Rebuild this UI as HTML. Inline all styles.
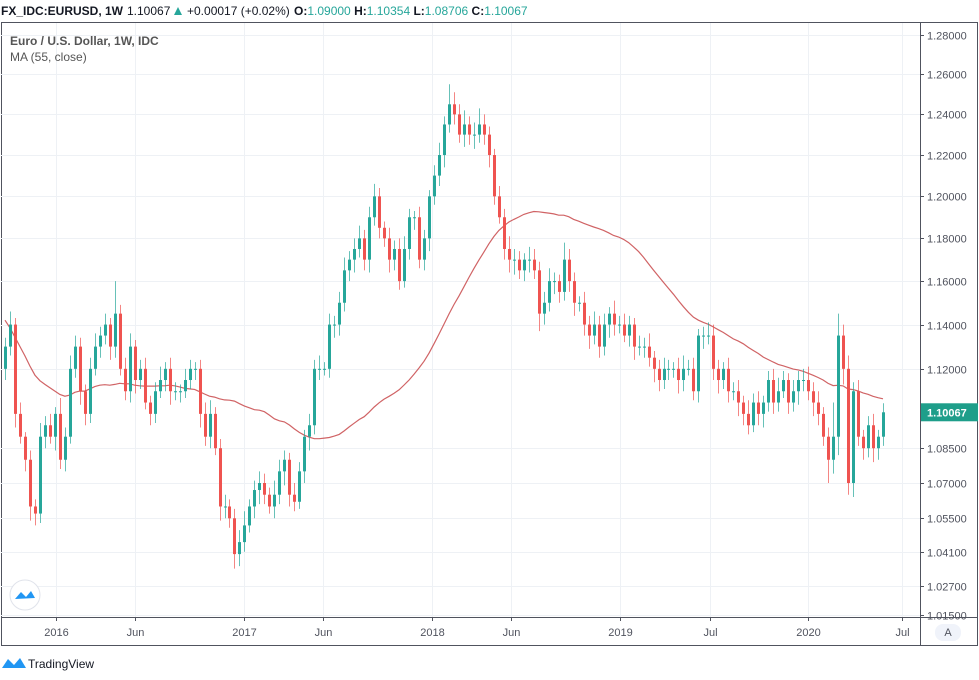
<!DOCTYPE html>
<html><head><meta charset="utf-8">
<style>
body{margin:0;background:#fff;width:979px;height:675px;overflow:hidden;font-family:"Liberation Sans",sans-serif;}
svg text{font-family:"Liberation Sans",sans-serif;}
</style></head>
<body>
<svg id="chart" width="979" height="675" xmlns="http://www.w3.org/2000/svg">
  <g id="header" font-size="12">
    <text x="1" y="15" fill="#131722" font-weight="bold">FX_IDC:EURUSD, 1W</text>
    <text x="127" y="15" fill="#131722">1.10067</text>
    <polygon points="174,15 178,7 182,15" fill="#26a69a"/>
    <text x="187" y="15" fill="#131722">+0.00017 (+0.02%)</text>
    <text x="294" y="15" fill="#131722" font-weight="bold">O:<tspan fill="#26a69a" font-weight="normal">1.09000</tspan> H:<tspan fill="#26a69a" font-weight="normal">1.10354</tspan> L:<tspan fill="#26a69a" font-weight="normal">1.08706</tspan> C:<tspan fill="#26a69a" font-weight="normal">1.10067</tspan></text>
  </g>
  <rect x="1.5" y="22.5" width="976" height="623" fill="none" stroke="#50535e" stroke-width="1"/>
  <g id="grid"></g>
  <g id="ma"></g>
  <g id="candles"></g>
  <line x1="920.5" y1="22" x2="920.5" y2="646" stroke="#50535e"/>
  <line x1="1" y1="617.5" x2="978" y2="617.5" stroke="#50535e"/>
  <g id="yaxis" font-size="11" fill="#50535e"></g>
  <g id="xaxis" font-size="11" fill="#50535e"></g>
  <text x="10" y="45" font-size="12" fill="#555" font-weight="bold">Euro / U.S. Dollar, 1W, IDC</text>
  <text x="10" y="61" font-size="12" fill="#555">MA (55, close)</text>
  <g>
    <circle cx="25" cy="595" r="15" fill="#fff" stroke="#e0e3eb"/>
    <path d="M15 599 L21 592 L26 597 L31 591 L35 598 Z" fill="#2196f3"/>
  </g>
  <rect x="935" y="624" width="26" height="17" rx="8" fill="#f0f3fa"/>
  <text x="948" y="636" font-size="11" fill="#50535e" text-anchor="middle">A</text>
  <g>
    <path d="M2 668 L8 659 L14 665 L20 658 L26 668 Z" fill="#2196f3"/>
    <text x="28" y="668" font-size="12" fill="#131722">TradingView</text>
  </g>
</svg>
<script>
const priceTicks=[1.28,1.26,1.24,1.22,1.20,1.18,1.16,1.14,1.12,1.085,1.07,1.055,1.041,1.027,1.015];
const tickLabels=["1.28000","1.26000","1.24000","1.22000","1.20000","1.18000","1.16000","1.14000","1.12000","1.08500","1.07000","1.05500","1.04100","1.02700","1.01500"];
const timeLabels=["2016","Jun","2017","Jun","2018","Jun","2019","Jul","2020","Jul"];
const timeWeeks=[14,36,66,88,118,140,170,195,222,248]; // weeks since first candle
const closes=[1.13,1.14,1.10,1.09,1.08,1.06,1.057,1.09,1.095,1.09,1.10,1.08,1.09,1.12,1.13,1.11,1.10,1.12,1.13,1.135,1.14,1.13,1.145,1.12,1.11,1.13,1.115,1.12,1.105,1.10,1.11,1.115,1.12,1.11,1.11,1.11,1.115,1.12,1.12,1.10,1.09,1.10,1.085,1.06,1.06,1.055,1.04,1.045,1.052,1.06,1.067,1.07,1.065,1.06,1.065,1.075,1.08,1.065,1.062,1.075,1.09,1.095,1.12,1.12,1.12,1.14,1.14,1.15,1.165,1.17,1.175,1.18,1.17,1.19,1.20,1.185,1.18,1.17,1.175,1.16,1.175,1.19,1.19,1.17,1.18,1.20,1.21,1.22,1.235,1.245,1.24,1.23,1.235,1.23,1.23,1.235,1.23,1.22,1.20,1.19,1.175,1.17,1.17,1.165,1.17,1.17,1.165,1.145,1.15,1.16,1.16,1.155,1.17,1.16,1.15,1.15,1.14,1.135,1.14,1.13,1.14,1.145,1.14,1.14,1.135,1.14,1.13,1.13,1.13,1.125,1.12,1.115,1.12,1.12,1.12,1.115,1.12,1.12,1.11,1.135,1.135,1.135,1.12,1.115,1.12,1.11,1.11,1.105,1.10,1.095,1.105,1.10,1.105,1.115,1.105,1.11,1.115,1.105,1.11,1.115,1.115,1.11,1.105,1.10,1.09,1.08,1.09,1.135,1.12,1.07,1.11,1.09,1.085,1.095,1.085,1.09,1.1007];
const firstOpen=1.12;
const wickUp=[4,6,3,5,2,4,3,6,4,5,3,7,4,6,5,4,3,5,6,4,5,3,15,4,5,6,3,4,5,3,4,6,3,5,4,3,5,4,3,4,5,6,3,4,5,3,4,5,6,3,4,5,4,3,6,5,4,3,5,4,3,5,4,6,3,5,4,5,6,4,5,6,4,5,6,4,3,5,4,5,6,4,3,5,4,3,5,6,4,10,6,5,7,4,6,8,5,4,3,5,4,6,5,4,3,6,5,4,5,6,4,3,8,5,4,3,5,4,6,4,5,3,6,4,5,4,3,5,4,6,3,4,5,4,3,5,6,4,5,3,4,6,5,4,3,5,4,5,3,6,4,5,3,4,5,6,4,3,5,4,5,6,4,5,3,4,15,10,5,6,4,5,3,4,5,3,4];
const wickDn=[5,4,6,3,5,6,5,4,5,3,6,4,5,3,4,6,5,4,3,5,4,6,5,3,4,5,6,4,3,5,4,3,5,6,4,5,3,4,5,6,4,5,3,6,5,4,6,5,4,3,5,6,4,3,5,4,6,5,4,3,5,6,4,5,3,4,6,5,4,5,6,4,5,6,4,5,4,6,5,4,3,5,6,4,5,6,4,5,6,4,5,4,6,5,7,4,5,6,4,3,5,6,7,4,5,6,4,8,5,4,6,5,4,5,6,4,5,6,4,5,4,6,5,4,3,5,6,4,5,4,6,5,4,5,4,6,5,3,4,5,6,4,5,6,4,5,4,6,5,4,3,5,6,4,5,4,3,5,4,6,5,4,6,5,4,10,6,8,7,5,6,4,5,4,6,5,4];
const priorCloses=[1.29,1.28,1.27,1.26,1.25,1.24,1.22,1.19,1.16,1.15,1.16,1.14,1.12,1.10,1.08,1.09,1.10,1.08,1.09,1.11,1.13,1.14,1.13,1.10,1.12,1.13,1.14,1.13,1.11,1.10,1.11,1.11,1.12,1.10,1.12,1.13,1.14,1.13,1.13,1.14];
const maWindow=40;

const NS="http://www.w3.org/2000/svg";
const X0=5,X1=883,PL=1,PR=920,PT=23,PB=617;
function yScale(p){return 35+2500*Math.log(1.28/p);}
function xScale(i){return X0+i*(X1-X0)/(closes.length-1);}
const wk=(X1-X0)/(closes.length-1)/1.38; // px per week
function xWeek(w){return X0+w*wk;}
function mk(tag,attrs,parent){const e=document.createElementNS(NS,tag);for(const k in attrs)e.setAttribute(k,attrs[k]);parent.appendChild(e);return e;}

const grid=document.getElementById('grid'),yaxis=document.getElementById('yaxis'),xaxis=document.getElementById('xaxis');
priceTicks.forEach((p,i)=>{
  const y=Math.round(yScale(p))+0.5;
  if(y<PB){const g=mk('line',{x1:PL,x2:PR,y1:y,y2:y,stroke:'#eef1f5'},grid);
  
  }
  mk('line',{x1:PR,x2:PR+4,y1:y,y2:y,stroke:'#50535e'},yaxis);
  const t=mk('text',{x:927,y:y+4},yaxis);t.textContent=tickLabels[i];
  
  
});
timeLabels.forEach((l,i)=>{
  const x=Math.round(xWeek(timeWeeks[i]))+0.5;
  const g=mk('line',{x1:x,x2:x,y1:PT,y2:PB,stroke:'#eef1f5'},grid);
  
  
  mk('line',{x1:x,x2:x,y1:PB,y2:PB+4,stroke:'#50535e'},xaxis);
  const t=mk('text',{x:x,y:636,'text-anchor':'middle'},xaxis);t.textContent=l;
  
  
});
// MA
const all=priorCloses.concat(closes);
let pts=[];
for(let i=0;i<closes.length;i++){
  let s=0;for(let k=0;k<maWindow;k++)s+=all[i+priorCloses.length-k];
  pts.push(xScale(i).toFixed(1)+','+yScale(s/maWindow).toFixed(1));
}
const ma=mk('polyline',{points:pts.join(' '),fill:'none',stroke:'#c8484a','stroke-width':1.2,'stroke-opacity':0.85},document.getElementById('ma'));


// candles
const cg=document.getElementById('candles');
closes.forEach((c,i)=>{
  const o=i===0?firstOpen:closes[i-1];
  const hi=Math.max(o,c)+wickUp[i]/1000, lo=Math.min(o,c)-wickDn[i]/1000;
  const up=c>=o, col=up?'#26a69a':'#ef5350';
  const x=Math.round(xScale(i));
  const g=mk('g',{},cg);
  
  
  mk('line',{x1:x+0.5,x2:x+0.5,y1:yScale(hi),y2:yScale(lo),stroke:col,'stroke-opacity':0.7},g);
  const yt=yScale(Math.max(o,c)),yb=yScale(Math.min(o,c));
  mk('rect',{x:x-1,y:yt,width:3,height:Math.max(1,yb-yt),fill:col},g);
});
// last price label
const ly=yScale(closes[closes.length-1]);
const lb=mk('rect',{x:921,y:ly-9,width:57,height:18,fill:'#1e9e8a'},yaxis);


const lt=mk('text',{x:927,y:ly+4,fill:'#fff','font-weight':'bold'},yaxis);lt.textContent='1.10067';


</script>
</body></html>
